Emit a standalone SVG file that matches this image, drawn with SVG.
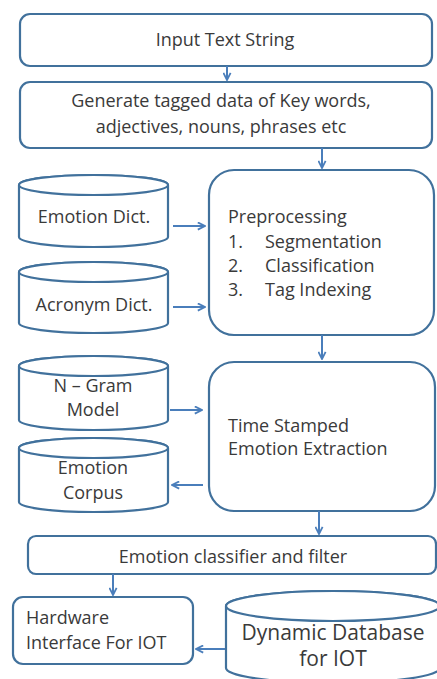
<svg xmlns="http://www.w3.org/2000/svg" width="437" height="679" viewBox="0 0 437 679">
<defs>
<marker id="ah" viewBox="0 0 10 10" refX="9" refY="5" markerWidth="9" markerHeight="9" markerUnits="userSpaceOnUse" orient="auto">
<path d="M1,1 L9,5 L1,9" fill="none" stroke="#4a7ebb" stroke-width="2"/>
</marker>
<style>
.box{fill:#fff;stroke:#41719c;stroke-width:2.2}
.t{font-family:"Open Sans","Liberation Sans",sans-serif;font-size:18px;fill:#3a3a3a}
.m{text-anchor:middle}
.c{stroke:#4a7ebb;stroke-width:2;fill:none;marker-end:url(#ah)}
</style>
</defs>
<rect width="437" height="679" fill="#fff"/>
<g id="input">
<rect class="box" x="20" y="14" width="412" height="52" rx="10"/>
<text class="t m" x="225" y="46">Input Text String</text>
</g>
<g id="generate">
<rect class="box" x="20" y="82" width="412" height="66" rx="10"/>
<text class="t m" x="221" y="107">Generate tagged data of Key words,</text>
<text class="t m" x="221" y="133">adjectives, nouns, phrases etc</text>
</g>
<g id="emotiondict">
<path class="box" d="M19,185 L19,237 A74.5,10 0 0 0 168,237 L168,185 A74.5,10 0 0 0 19,185 Z"/>
<ellipse class="box" cx="93.5" cy="185" rx="74.5" ry="10"/>
<text class="t m" x="94" y="223">Emotion Dict.</text>
</g>
<g id="acronymdict">
<path class="box" d="M19,272 L19,323 A74.5,10 0 0 0 168,323 L168,272 A74.5,10 0 0 0 19,272 Z"/>
<ellipse class="box" cx="93.5" cy="272" rx="74.5" ry="10"/>
<text class="t m" x="94" y="311">Acronym Dict.</text>
</g>
<g id="preprocessing">
<rect class="box" x="209" y="170" width="225" height="165" rx="25"/>
<text class="t" x="228" y="223">Preprocessing</text>
<text class="t" x="228" y="248">1.</text><text class="t" x="265" y="248">Segmentation</text>
<text class="t" x="228" y="272">2.</text><text class="t" x="265" y="272">Classification</text>
<text class="t" x="228" y="296">3.</text><text class="t" x="265" y="296">Tag Indexing</text>
</g>
<g id="ngram">
<path class="box" d="M19,366 L19,420 A74.5,10 0 0 0 168,420 L168,366 A74.5,10 0 0 0 19,366 Z"/>
<ellipse class="box" cx="93.5" cy="366" rx="74.5" ry="10"/>
<text class="t m" x="93" y="392">N – Gram</text>
<text class="t m" x="93" y="416">Model</text>
</g>
<g id="corpus">
<path class="box" d="M19,448 L19,502 A74.5,10 0 0 0 168,502 L168,448 A74.5,10 0 0 0 19,448 Z"/>
<ellipse class="box" cx="93.5" cy="448" rx="74.5" ry="10"/>
<text class="t m" x="93" y="474">Emotion</text>
<text class="t m" x="93" y="499">Corpus</text>
</g>
<g id="timestamped">
<rect class="box" x="209" y="362" width="226" height="149" rx="25"/>
<text class="t" x="228" y="432">Time Stamped</text>
<text class="t" x="228" y="455">Emotion Extraction</text>
</g>
<g id="classifier">
<rect class="box" x="28" y="536" width="408" height="38" rx="8"/>
<text class="t m" x="233" y="563">Emotion classifier and filter</text>
</g>
<g id="hardware">
<rect class="box" x="13" y="597" width="180" height="67" rx="10"/>
<text class="t" x="26" y="624">Hardware</text>
<text class="t" x="26" y="649">Interface For IOT</text>
</g>
<g id="database">
<path class="box" d="M226,606 L226,668 A107,15 0 0 0 440,668 L440,606 A107,15 0 0 0 226,606 Z"/>
<ellipse class="box" cx="333" cy="606" rx="107" ry="15"/>
<text class="t m" x="333" y="640" style="font-size:21px">Dynamic Database</text>
<text class="t m" x="333" y="666" style="font-size:21px">for IOT</text>
</g>
<g id="connectors">
<path class="c" d="M227,66 L227,80"/>
<path class="c" d="M322,148 L322,168"/>
<path class="c" d="M173,226 L205,226"/>
<path class="c" d="M173,307 L205,307"/>
<path class="c" d="M322,335 L322,359"/>
<path class="c" d="M170,410 L202,410"/>
<path class="c" d="M203,485 L172,485"/>
<path class="c" d="M319,511 L319,534"/>
<path class="c" d="M113,574 L113,595"/>
<path class="c" d="M225,649 L196,649"/>
</g>
</svg>
